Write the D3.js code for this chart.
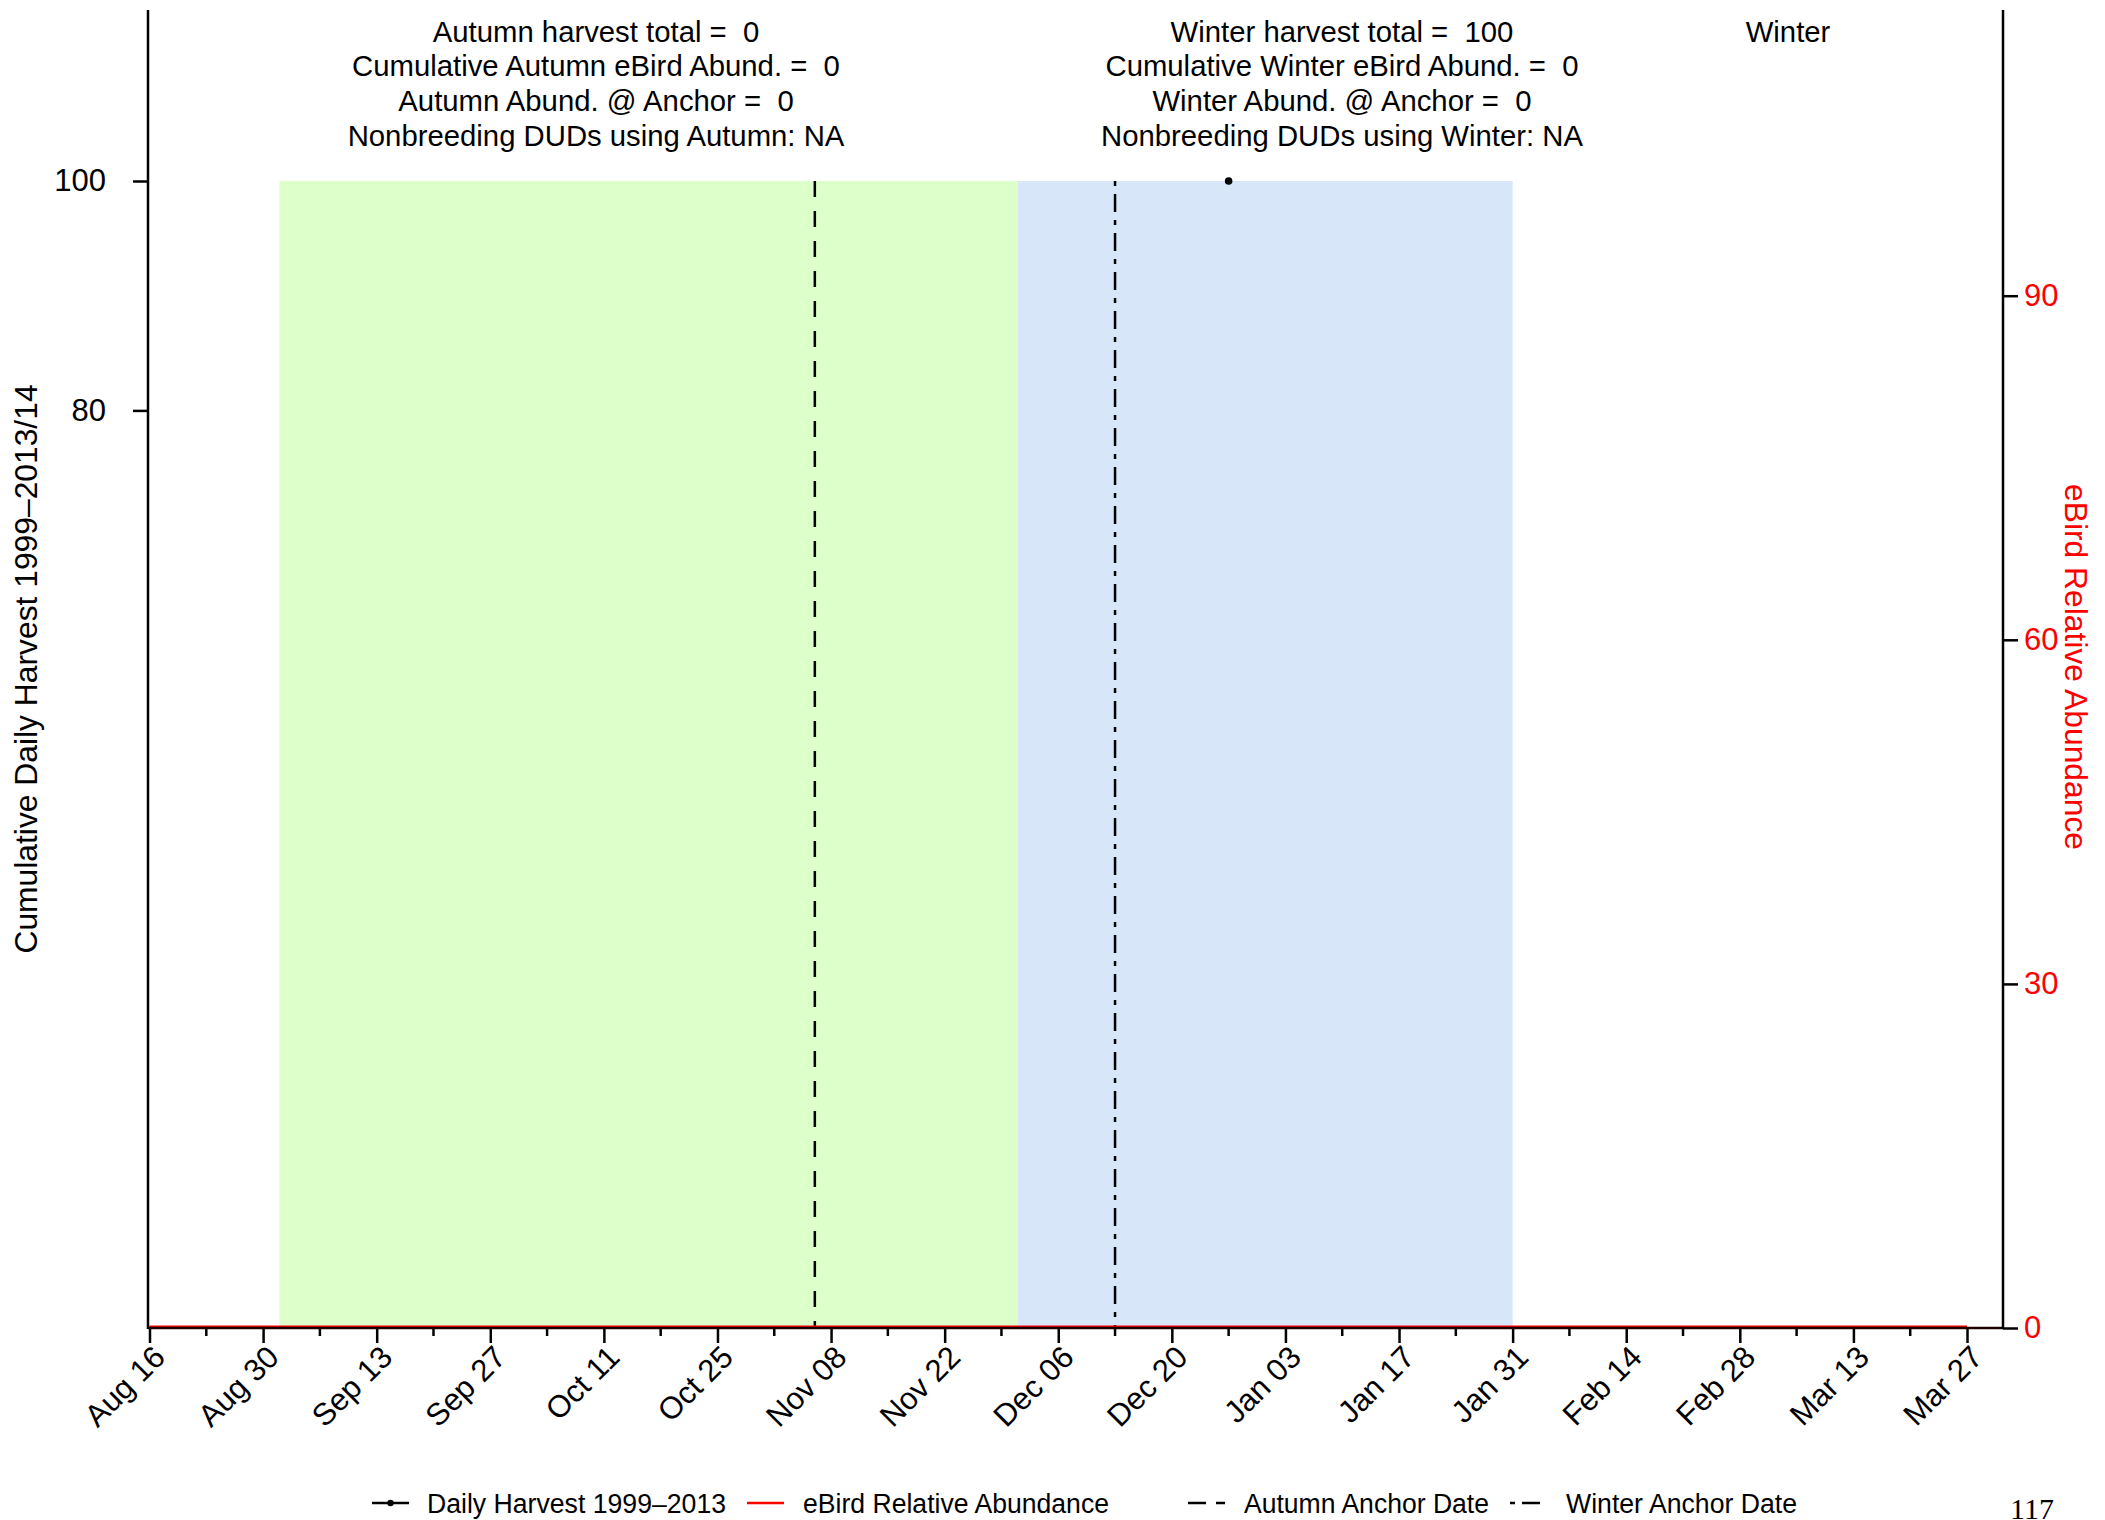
<!DOCTYPE html>
<html><head><meta charset="utf-8">
<script src="https://cdn.jsdelivr.net/npm/d3@7"></script>
<style>
body{margin:0;background:#fff}
svg{display:block;font-family:"Liberation Sans",Arial,Helvetica,sans-serif}
svg text{white-space:pre}
</style>
</head><body>
<svg id="c" width="2105" height="1520"></svg>
<script>
// ---------- data ----------
const tickDates = ["2019-08-16","2019-08-30","2019-09-13","2019-09-27","2019-10-11","2019-10-25","2019-11-08","2019-11-22","2019-12-06","2019-12-20","2020-01-03","2020-01-17","2020-01-31","2020-02-14","2020-02-28","2020-03-13","2020-03-27"];
const tickLabels = ["Aug 16","Aug 30","Sep 13","Sep 27","Oct 11","Oct 25","Nov 08","Nov 22","Dec 06","Dec 20","Jan 03","Jan 17","Jan 31","Feb 14","Feb 28","Mar 13","Mar 27"];
const leftTicks = [80, 100];
const rightTicks = [0, 30, 60, 90];
const seasonNames = ["Autumn", "Winter"];
const seasonStart = ["2019-09-01", "2019-12-01"];
const seasonEnd = ["2019-12-01", "2020-01-31"];
const seasonTop = [100, 100];
const seasonColors = ["#ddffca", "#d8e6fa"];
const anchorNames = ["Autumn Anchor Date", "Winter Anchor Date"];
const anchorDates = ["2019-11-06", "2019-12-13"];
const harvestDates = ["2019-12-27"];
const harvestValues = [100];
const ebirdDates = ["2019-08-16","2019-08-30","2019-09-13","2019-09-27","2019-10-11","2019-10-25","2019-11-08","2019-11-22","2019-12-06","2019-12-20","2020-01-03","2020-01-17","2020-01-31","2020-02-14","2020-02-28","2020-03-13","2020-03-27"];
const ebirdValues = [0,0,0,0,0,0,0,0,0,0,0,0,0,0,0,0,0];
const autumnStats = ["Autumn harvest total =  0","Cumulative Autumn eBird Abund. =  0","Autumn Abund. @ Anchor =  0","Nonbreeding DUDs using Autumn: NA"];
const winterStats = ["Winter harvest total =  100","Cumulative Winter eBird Abund. =  0","Winter Abund. @ Anchor =  0","Nonbreeding DUDs using Winter: NA"];
const springStats = ["Winter"];
const legendLabels = ["Daily Harvest 1999\u20132013","eBird Relative Abundance","Autumn Anchor Date","Winter Anchor Date"];
const yLabel = "Cumulative Daily Harvest 1999\u20132013/14";
const y2Label = "eBird Relative Abundance";
const pageNumber = "117";

// ---------- layout ----------
const P = d3.utcParse("%Y-%m-%d");
const svg = d3.select("#c");
const x = d3.scaleUtc().domain([P(tickDates[0]), P(tickDates[tickDates.length-1])]).range([149.5, 1967]);
const y = d3.scaleLinear().domain([0, 100]).range([1328, 181]);
const y2 = d3.scaleLinear().domain([0, 100]).range([1328, 181]);
const axL = 148, axR = 2003, axTop = 10, axBot = 1328;
const TICKFONT = 31, FONT = 29.3, LEGFONT = 27, TITLEFONT = 31.8;

// seasons
svg.append("g").selectAll("rect").data(seasonNames).join("rect")
  .attr("x", (d,i) => x(P(seasonStart[i])))
  .attr("width", (d,i) => x(P(seasonEnd[i])) - x(P(seasonStart[i])))
  .attr("y", (d,i) => y(seasonTop[i]))
  .attr("height", (d,i) => y(0) - y(seasonTop[i]))
  .attr("fill", (d,i) => seasonColors[i]);

// anchor lines
const dashes = ["16,14", "5,8,18,8"];
svg.append("g").selectAll("line").data(anchorDates).join("line")
  .attr("x1", d => x(P(d))).attr("x2", d => x(P(d)))
  .attr("y1", y(100)).attr("y2", y(0))
  .attr("stroke", "#000").attr("stroke-width", 2.5)
  .attr("stroke-dasharray", (d,i) => dashes[i]);

// eBird line (red)
const ebLine = d3.line().x((d,i) => x(P(ebirdDates[i]))).y(d => y2(d));
svg.append("path").datum(ebirdValues).attr("d", ebLine)
  .attr("fill", "none").attr("stroke", "#ff0000").attr("stroke-width", 3)
  .attr("transform", "translate(0,-1)");

// harvest points
svg.append("g").selectAll("circle").data(harvestValues).join("circle")
  .attr("cx", (d,i) => x(P(harvestDates[i]))).attr("cy", d => y(d))
  .attr("r", 3.8).attr("fill", "#000");

// x axis
const minorDates = tickDates.slice(0, -1).map(d => d3.utcDay.offset(P(d), 7));
svg.append("g").selectAll("line").data(minorDates).join("line")
  .attr("x1", d => x(d)).attr("x2", d => x(d))
  .attr("y1", axBot).attr("y2", axBot + 8)
  .attr("stroke", "#000").attr("stroke-width", 2.5);
const xAxis = d3.axisBottom(x).tickValues(tickDates.map(P))
  .tickFormat((d,i) => tickLabels[i]).tickSize(15).tickSizeOuter(0);
const gx = svg.append("g").attr("transform", `translate(0,${axBot})`).call(xAxis);
gx.select(".domain").remove();
gx.selectAll(".tick line").attr("stroke-width", 2.5);
gx.selectAll(".tick text")
  .attr("x", 0).attr("y", 0).attr("dy", null)
  .attr("text-anchor", "end")
  .attr("transform", "translate(17,31) rotate(-45)")
  .attr("font-size", TICKFONT).attr("font-family", "Liberation Sans, Arial, sans-serif").attr("fill", "#000");
svg.append("line").attr("x1", axL).attr("x2", axR).attr("y1", axBot).attr("y2", axBot)
  .attr("stroke", "#1a0000").attr("stroke-width", 2.5);

// left axis
const yAxis = d3.axisLeft(y).tickValues(leftTicks).tickSize(15).tickPadding(27).tickSizeOuter(0);
const gy = svg.append("g").attr("transform", `translate(${axL},0)`).call(yAxis);
gy.select(".domain").remove();
gy.selectAll(".tick line").attr("stroke-width", 2.5);
gy.selectAll(".tick text").attr("font-size", TICKFONT).attr("font-family", "Liberation Sans, Arial, sans-serif").attr("fill", "#000");
svg.append("line").attr("x1", axL).attr("x2", axL).attr("y1", axTop).attr("y2", axBot + 1)
  .attr("stroke", "#000").attr("stroke-width", 2.5);

// right axis
const y2Axis = d3.axisRight(y2).tickValues(rightTicks).tickSize(15).tickPadding(6).tickSizeOuter(0);
const gy2 = svg.append("g").attr("transform", `translate(${axR},0)`).call(y2Axis);
gy2.select(".domain").remove();
gy2.selectAll(".tick line").attr("stroke-width", 2.5).attr("stroke", "#000");
gy2.selectAll(".tick text").attr("font-size", TICKFONT).attr("font-family", "Liberation Sans, Arial, sans-serif").attr("fill", "#ff0000");
svg.append("line").attr("x1", axR).attr("x2", axR).attr("y1", axTop).attr("y2", axBot + 1)
  .attr("stroke", "#000").attr("stroke-width", 2.5);

// axis titles
svg.append("text").attr("transform", "translate(37,669) rotate(-90)")
  .attr("text-anchor", "middle").attr("font-size", TITLEFONT).text(yLabel);
svg.append("text").attr("transform", "translate(2065,667) rotate(90)")
  .attr("text-anchor", "middle").attr("font-size", TITLEFONT).attr("fill", "#ff0000").text(y2Label);

// stats text blocks
const blocks = [[autumnStats, 596], [winterStats, 1342], [springStats, 1788]];
blocks.forEach(([lines, cx]) => {
  svg.append("g").selectAll("text").data(lines).join("text")
    .attr("x", cx).attr("y", (d,i) => 41.5 + i * 34.7)
    .attr("text-anchor", "middle").attr("font-size", FONT).text(d => d);
});

// legend
const lg = svg.append("g");
const ly = 1503;
const items = [
  {x1: 372, tx: 427, w: 299, stroke: "#000", dash: null, dot: true},
  {x1: 747, tx: 803, w: 306, stroke: "#ff0000", dash: null, dot: false},
  {x1: 1188, tx: 1244, w: 245, stroke: "#000", dash: "18,10", dot: false},
  {x1: 1510, tx: 1566, w: 231, stroke: "#000", dash: "5,7,18,7", dot: false}
];
items.forEach((it, i) => {
  lg.append("line").attr("x1", it.x1).attr("x2", it.x1 + 37).attr("y1", ly).attr("y2", ly)
    .attr("stroke", it.stroke).attr("stroke-width", 2.5).attr("stroke-dasharray", it.dash);
  if (it.dot) lg.append("circle").attr("cx", it.x1 + 18.5).attr("cy", ly).attr("r", 3.2).attr("fill", "#000");
  lg.append("text").attr("x", it.tx).attr("y", ly + 10).attr("font-size", LEGFONT)
    .attr("textLength", it.w).attr("lengthAdjust", "spacingAndGlyphs").text(legendLabels[i]);
});

// page number
svg.append("text").attr("x", 2010).attr("y", 1519).attr("font-size", 30)
  .attr("font-family", "Liberation Serif, Times New Roman, serif").text(pageNumber);
</script>
</body></html>
